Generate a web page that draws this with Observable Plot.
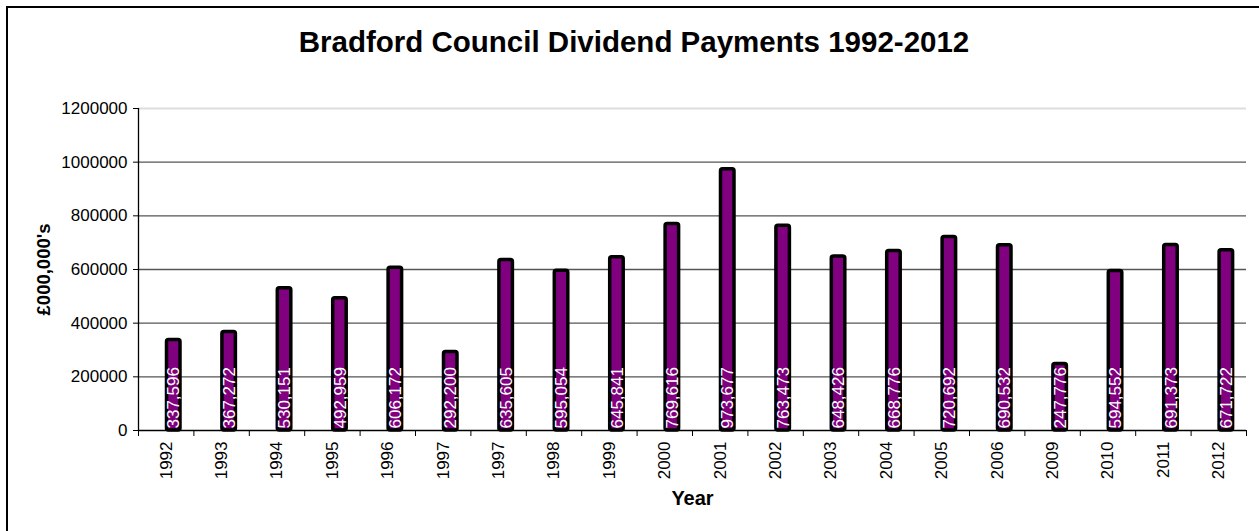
<!DOCTYPE html>
<html>
<head>
<meta charset="utf-8">
<script src="https://cdn.jsdelivr.net/npm/d3@7"></script>
<script src="https://cdn.jsdelivr.net/npm/@observablehq/plot@0.6"></script>
<style>
  html, body { margin: 0; padding: 0; background: #fff; overflow: hidden; }
  #wrap { position: relative; width: 1259px; height: 531px; font-family: "Liberation Sans", Arial, sans-serif; }
  #title { box-sizing: border-box; height: 70px; padding-top: 25px; padding-left: 9px; width: 1259px;
           text-align: center; font-weight: bold; font-size: 29.5px; line-height: normal; color: #000; white-space: nowrap; }
  #frame { position: absolute; left: 6px; top: 6px; width: 1254px; height: 540px; border: 2px solid #000; z-index: 10; pointer-events: none; }
</style>
</head>
<body>
<div id="wrap">
  <div id="title">Bradford Council Dividend Payments 1992-2012</div>
  <div id="chart"></div>
  <div id="frame"></div>
</div>
<script>
const years = ["1992","1993","1994","1995","1996","1997","1997","1998","1999","2000","2001","2002","2003","2004","2005","2006","2009","2010","2011","2012"];
const payments = [337596,367272,530151,492959,606172,292200,635605,595054,645841,769616,973677,763473,648426,668776,720692,690532,247776,594552,691373,671722];
const yTicks = [0,200000,400000,600000,800000,1000000,1200000];

const data = years.map((year, i) => ({i, year, value: payments[i]}));
const boundaries = d3.range(years.length + 1);
const fmt = d3.format(",");

const chart = Plot.plot({
  width: 1259,
  height: 461,
  marginTop: 38,
  marginBottom: 101,
  marginLeft: 138,
  marginRight: 13,
  style: {fontFamily: "'Liberation Sans', Arial, sans-serif", background: "transparent", color: "#000"},
  x: {type: "linear", domain: [0, years.length], axis: null},
  y: {domain: [0, 1200000], axis: null},
  marks: [
    // gridlines
    Plot.ruleY(yTicks.filter(t => t > 0 && t < 1200000), {stroke: "#555", strokeWidth: 1.3}),
    Plot.ruleY([1200000], {stroke: "#ddd", strokeWidth: 2}),
    // y axis
    Plot.axisY({ticks: yTicks, tickFormat: d3.format("d"), tickSize: 5, tickPadding: 6, fontSize: 17, stroke: "#000", label: null}),
    Plot.ruleX([0], {y1: 0, y2: 1200000, stroke: "#000", strokeWidth: 1.3}),
    // bars
    Plot.rectY(data, {x1: d => d.i, x2: d => d.i + 1, y: "value", insetLeft: 28.5, insetRight: 13.4,
      fill: "#800080", stroke: "#000", strokeWidth: 3.5, rx: 2}),
    // x axis line and boundary ticks
    Plot.ruleY([0], {stroke: "#000", strokeWidth: 1.5}),
    Plot.axisX({ticks: boundaries, tickFormat: () => "", tickSize: 6, stroke: "#000", label: null}),
    // value labels
    Plot.text(data, {x: d => d.i + 0.5, y: 0, text: d => fmt(d.value), dx: 7.7, dy: -2,
      rotate: -90, textAnchor: "start", lineAnchor: "middle", fill: "#fff", fontSize: 17}),
    // year labels
    Plot.text(data, {x: d => d.i + 0.5, y: 0, text: "year", dy: 11,
      rotate: -90, textAnchor: "end", lineAnchor: "middle", fill: "#000", fontSize: 17}),
    // axis titles
    Plot.text(["Year"], {frameAnchor: "bottom", dy: 68, lineAnchor: "middle", fontWeight: "bold", fontSize: 20, fill: "#000"}),
    Plot.text(["£000,000's"], {frameAnchor: "left", dx: -94, rotate: -90, textAnchor: "middle", lineAnchor: "middle", fontWeight: "bold", fontSize: 18.5, fill: "#000"})
  ]
});
document.getElementById("chart").appendChild(chart);
</script>
</body>
</html>
